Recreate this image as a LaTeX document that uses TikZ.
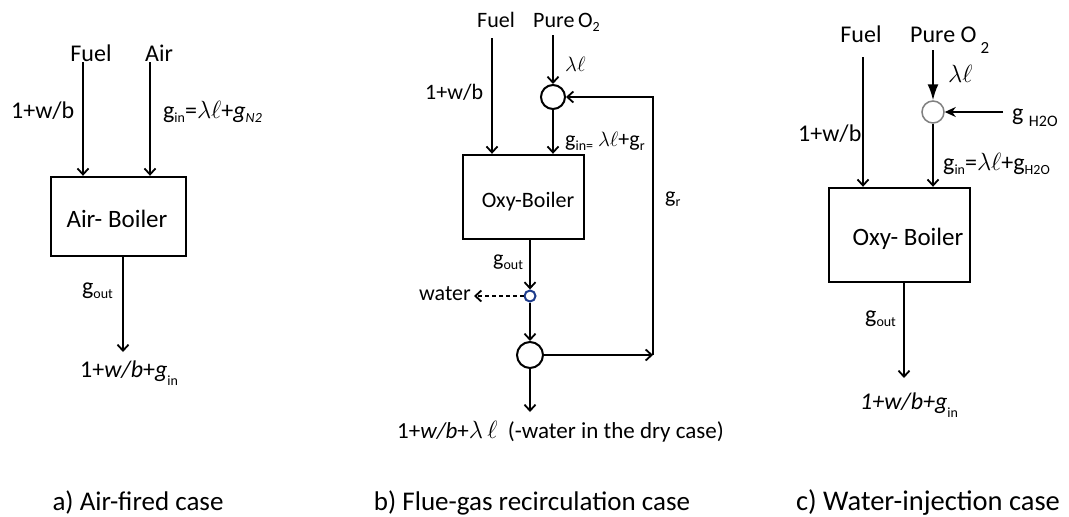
\documentclass[tikz,border=0pt]{standalone}
\usepackage{fontspec}
\setmainfont{Carlito}
\usetikzlibrary{arrows.meta}
\newcommand\sbx[2][-4pt]{\raisebox{#1}{\fontsize{14}{14}\selectfont #2}}
\begin{document}
\begin{tikzpicture}[x=1pt,y=-1pt, font=\fontsize{24}{28}\selectfont,
  arr/.style={line width=1.8pt, -{Straight Barb[length=6pt,width=11pt,line width=1.8pt]}},
  boxst/.style={draw, line width=2.4pt, inner sep=0pt},
  lbl/.style={inner sep=0pt, anchor=base west},
  lblc/.style={inner sep=0pt, anchor=base},
  circ/.style={draw, circle, line width=2pt, inner sep=0pt, minimum size=24pt},
  fb/.style={font=\fontsize{22}{26}\selectfont},
  boxtxt/.style={inner sep=0pt, anchor=base, font=\fontsize{25}{30}\selectfont},
  captxt/.style={inner sep=0pt, anchor=base, font=\fontsize{27}{32}\selectfont}]
\useasboundingbox (0,0) rectangle (1069,517);
\fill[white] (0,0) rectangle (1069,517);
% ---------- panel a ----------
\node[boxst, minimum width=135pt, minimum height=79pt] (ba) at (118.5,216.5) {};
\node[boxtxt] (tba) at (117,227) {Air- Boiler};
\coordinate (fa) at (83,62);
\coordinate (aa) at (150,62);
\coordinate (oa) at (123,352);
\draw[arr] (fa) -- (fa |- ba.north);
\draw[arr] (aa) -- (aa |- ba.north);
\draw[arr] (oa |- ba.south) -- (oa);
\node[lblc] (la1) at (91,61) {Fuel};
\node[lblc] (la2) at (159,61) {Air};
\node[lbl] (la3) at (11,118) {1+w/b};
\node[lbl] (la4) at (163,118) {g\sbx{in}=$\lambda\ell$+\textit{g}\sbx{\textit{N2}}};
\node[lbl] (la5) at (82,294) {g\sbx{out}};
\node[lbl] (la6) at (80,377) {1+\textit{w/b}+\textit{g}\sbx[-8pt]{in}};
% ---------- panel b ----------
\node[boxst, minimum width=121pt, minimum height=84pt] (bb) at (523.5,197) {};
\node[lblc, fb] (tbb) at (528,207) {Oxy-Boiler};
\node[circ] (c1) at (553,97) {};
\node[circ, minimum size=26pt] (c2) at (530,355) {};
\node[draw={rgb,255:red,30;green,60;blue,140}, circle, line width=2pt, minimum size=11pt, inner sep=0pt] (c3) at (530,296) {};
\coordinate (fbx) at (492,38);
\coordinate (pb) at (553,35);
\coordinate (wend) at (474,296);
\coordinate (rb) at (653,355);
\coordinate (rt) at (653,97);
\coordinate (ob) at (530,412);
\draw[arr] (fbx) -- (fbx |- bb.north);
\draw[arr] (pb) -- (c1.north);
\draw[arr] (c1.south) -- (c1.south |- bb.north);
\draw[arr] (c3 |- bb.south) -- (c3.north);
\draw[arr, dash pattern=on 4pt off 3pt, line width=1.5pt] (c3.west) -- (wend);
\draw[arr] (c3.south) -- (c2.north);
\draw[arr] (c2.east) -- (rb);
\draw[arr, line width=1.5pt] (rb) -- (rt) -- (c1.east);
\draw[arr] (c2.south) -- (ob);
\node[lblc, fb] (lb1) at (496,27) {Fuel};
\node[lbl, fb] (lb2) at (533,27) {Pure\,O\sbx{2}};
\node[lbl, fb] (lb3) at (565,71) {$\lambda\ell$};
\node[lbl, fb] (lb4) at (425,99) {1+w/b};
\node[lbl, fb] (lb5) at (565,146) {g\sbx{in=} $\lambda\ell$+g\sbx{r}};
\node[lbl, fb] (lb6) at (665,202) {g\sbx{r}};
\node[lbl, fb] (lb7) at (493,265) {g\sbx{out}};
\node[inner sep=0pt, anchor=base east, fb] (lb8) at (471,300) {water};
\node[lbl, font=\fontsize{23}{27}\selectfont] (lb9) at (397,438) {1+\textit{w/b}+$\lambda\,\ell$\ \ (-water in the dry case)};
% ---------- panel c ----------
\node[boxst, minimum width=141pt, minimum height=94pt] (bc) at (899.5,235) {};
\node[boxtxt] (tbc) at (908,245) {Oxy- Boiler};
\node[draw=gray, circle, line width=1.5pt, inner sep=0pt, minimum size=22pt] (c4) at (933,112) {};
\coordinate (fc) at (863,57);
\coordinate (pc) at (933,50);
\coordinate (hc) at (1003,112);
\coordinate (oc) at (904,378);
\draw[line width=1.8pt, -{Latex[length=16pt,width=11pt]}] (pc) -- (c4.north);
\draw[line width=2pt, -{Stealth[length=11pt,width=10pt]}] (hc) -- (c4.east);
\draw[arr] (c4.south) -- (c4.south |- bc.north);
\draw[arr] (fc) -- (fc |- bc.north);
\draw[arr] (oc |- bc.south) -- (oc);
\node[lblc] (lc1) at (861,42) {Fuel};
\node[lbl] (lc2) at (910,42) {Pure O\,\raisebox{-11pt}{\fontsize{17}{17}\selectfont 2}};
\node[lbl, font=\fontsize{26}{30}\selectfont] (lc3) at (948,82) {$\lambda\ell$};
\node[lbl] (lc4) at (1012,120) {g\ \sbx[-6pt]{\fontsize{16}{16}\selectfont H2O}};
\node[lbl] (lc5) at (798,141) {1+w/b};
\node[lbl] (lc6) at (943,170) {g\sbx{in}=$\lambda\ell$+g\sbx{H2O}};
\node[lbl] (lc7) at (865,322) {g\sbx{out}};
\node[lbl] (lc8) at (860,409) {\textit{1+w/b+g}\sbx[-8pt]{in}};
% ---------- captions ----------
\node[captxt] (capa) at (138,510) {a) Air-fired case};
\node[captxt] (capb) at (532,510) {b) Flue-gas recirculation case};
\node[captxt, font=\fontsize{28.5}{33}\selectfont] (capc) at (928,510) {c) Water-injection case};
\end{tikzpicture}
\end{document}
